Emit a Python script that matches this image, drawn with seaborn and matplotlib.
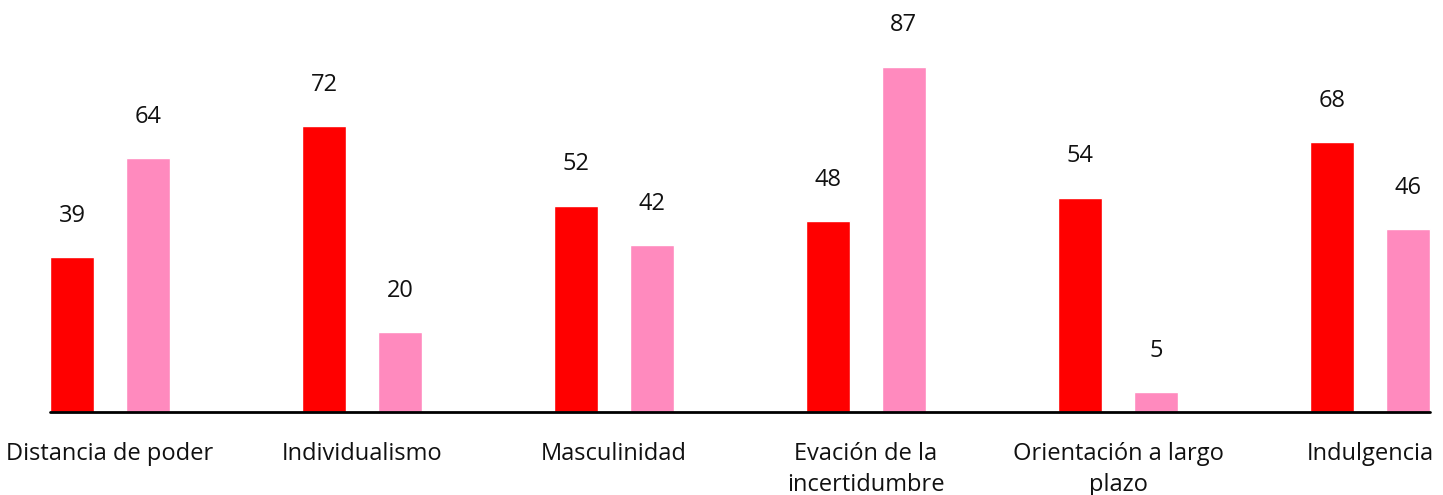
import seaborn as sns
import matplotlib.pyplot as plt
import pandas as pd

# --- Data ---
categories = ["Distancia de poder", "Individualismo", "Masculinidad",
              "Evación de la\nincertidumbre", "Orientación a largo\nplazo", "Indulgencia"]
serie_a = [39, 72, 52, 48, 54, 68]
serie_b = [64, 20, 42, 87, 5, 46]
series_names = ["Serie A", "Serie B"]
colors = ["#FF0000", "#FF8ABE"]

data = pd.DataFrame({
    "Dimension": categories * 2,
    "Valor": serie_a + serie_b,
    "Serie": [series_names[0]] * len(categories) + [series_names[1]] * len(categories),
})

# --- Styling ---
sns.set_style("white")
plt.rcParams["font.family"] = ["Open Sans", "DejaVu Sans"]

fig = plt.figure(figsize=(14.43, 4.95), dpi=100)
ax = fig.add_axes([0, 0.168, 1, 0.832])

sns.barplot(
    data=data, x="Dimension", y="Valor", hue="Serie",
    palette=colors, width=0.6, gap=0.42, ax=ax,
    legend=False, saturation=1,
)

for container in ax.containers:
    ax.bar_label(container, padding=21, fontsize=17, color="#111111")

ax.set_xlim(-0.437, 5.29)
ax.set_ylim(0, 103.8)
ax.axhline(0, xmin=(-0.24 + 0.437) / 5.727, xmax=(5.24 + 0.437) / 5.727,
           color="black", lw=2, zorder=5, clip_on=False)

for s in ax.spines.values():
    s.set_visible(False)
ax.set_yticks([])
ax.set_xlabel("")
ax.set_ylabel("")
ax.tick_params(axis="x", length=0, pad=22, labelsize=17, labelcolor="#111111")
for lbl in ax.get_xticklabels():
    lbl.set_linespacing(1.35)

plt.savefig("out.png", dpi=100)
plt.close()
